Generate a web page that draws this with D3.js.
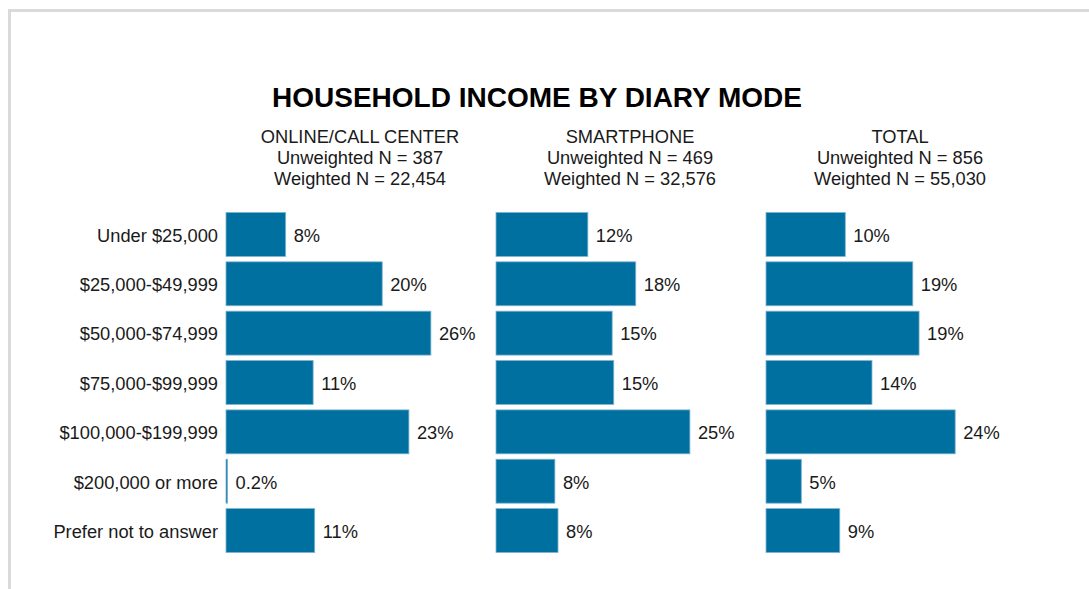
<!DOCTYPE html>
<html>
<head lang="en">
    <meta charset="UTF-8">
    <title>Household Income by Diary Mode</title>
    <script type="text/javascript" src="https://cdn.jsdelivr.net/npm/d3@7/dist/d3.min.js"></script>
    <style>
        body { margin: 0; background: #fff; }
        text { font-family: "Liberation Sans", Arial, sans-serif; fill: #1a1a1a; }
    </style>
</head>
<body>
<div class="holder"></div>

<script>
    var categories = ["Under $25,000", "$25,000-$49,999", "$50,000-$74,999", "$75,000-$99,999",
        "$100,000-$199,999", "$200,000 or more", "Prefer not to answer"];
    var panels = ["ONLINE/CALL CENTER", "SMARTPHONE", "TOTAL"];
    var unweighted = ["387", "469", "856"];
    var weighted = ["22,454", "32,576", "55,030"];
    // bar lengths (estimated) and printed labels
    var online = [7.6, 19.9, 26.1, 11.1, 23.3, 0.2, 11.3];
    var smartphone = [11.7, 17.8, 14.8, 15.0, 24.7, 7.5, 7.9];
    var total = [10.1, 18.7, 19.5, 13.5, 24.1, 4.5, 9.4];
    var onlineLabels = ["8%", "20%", "26%", "11%", "23%", "0.2%", "11%"];
    var smartphoneLabels = ["12%", "18%", "15%", "15%", "25%", "8%", "8%"];
    var totalLabels = ["10%", "19%", "19%", "14%", "24%", "5%", "9%"];

    var series = [online, smartphone, total];
    var labels = [onlineLabels, smartphoneLabels, totalLabels];

    var svg = d3.select(".holder")
            .append("svg")
            .attr("width", 1089)
            .attr("height", 589);

    // frame
    svg.append("path")
            .attr("d", "M9.5,600 V10.5 H1100")
            .attr("fill", "none")
            .attr("stroke", "#dadada")
            .attr("stroke-width", 3);

    svg.append("text")
            .attr("x", 537)
            .attr("y", 107)
            .attr("text-anchor", "middle")
            .style("font-weight", "bold")
            .style("font-size", "28px")
            .style("fill", "#000")
            .text("HOUSEHOLD INCOME BY DIARY MODE");

    var y = d3.scaleBand()
            .domain(categories)
            .range([210, 555])
            .paddingInner(0.11)
            .paddingOuter(0.05);

    var x = d3.scaleLinear().domain([0, 10]).range([0, 78.5]);

    var panelX = [226, 496, 766];
    var centers = [360, 630, 900];

    // category labels
    svg.selectAll("text.cat")
            .data(categories)
            .enter()
            .append("text")
            .attr("class", "cat")
            .attr("x", 218)
            .attr("y", function(d) { return y(d) + y.bandwidth() / 2; })
            .attr("dy", "0.4em")
            .attr("text-anchor", "end")
            .style("font-size", "18.3px")
            .text(function(d) { return d; });

    panels.forEach(function(p, k) {
        var head = svg.append("text")
                .attr("x", centers[k])
                .attr("y", 143)
                .attr("text-anchor", "middle")
                .style("font-size", "18.3px");
        head.append("tspan").attr("x", centers[k]).text(p);
        head.append("tspan").attr("x", centers[k]).attr("dy", 21).text("Unweighted N = " + unweighted[k]);
        head.append("tspan").attr("x", centers[k]).attr("dy", 21).text("Weighted N = " + weighted[k]);

        var g = svg.append("g").attr("transform", "translate(" + panelX[k] + ",0)");

        g.selectAll("rect")
                .data(series[k])
                .enter()
                .append("rect")
                .attr("x", 0)
                .attr("y", function(d, i) { return y(categories[i]); })
                .attr("width", function(d) { return Math.max(x(d), 1.5); })
                .attr("height", y.bandwidth())
                .attr("fill", "#0070a1")
                .attr("stroke", "#7fb3d0")
                .attr("stroke-width", 0.8);

        g.selectAll("text")
                .data(series[k])
                .enter()
                .append("text")
                .attr("x", function(d) { return x(d) + 8; })
                .attr("y", function(d, i) { return y(categories[i]) + y.bandwidth() / 2; })
                .attr("dy", "0.4em")
                .style("font-size", "18.3px")
                .text(function(d, i) { return labels[k][i]; });
    });
</script>
</body>
</html>
